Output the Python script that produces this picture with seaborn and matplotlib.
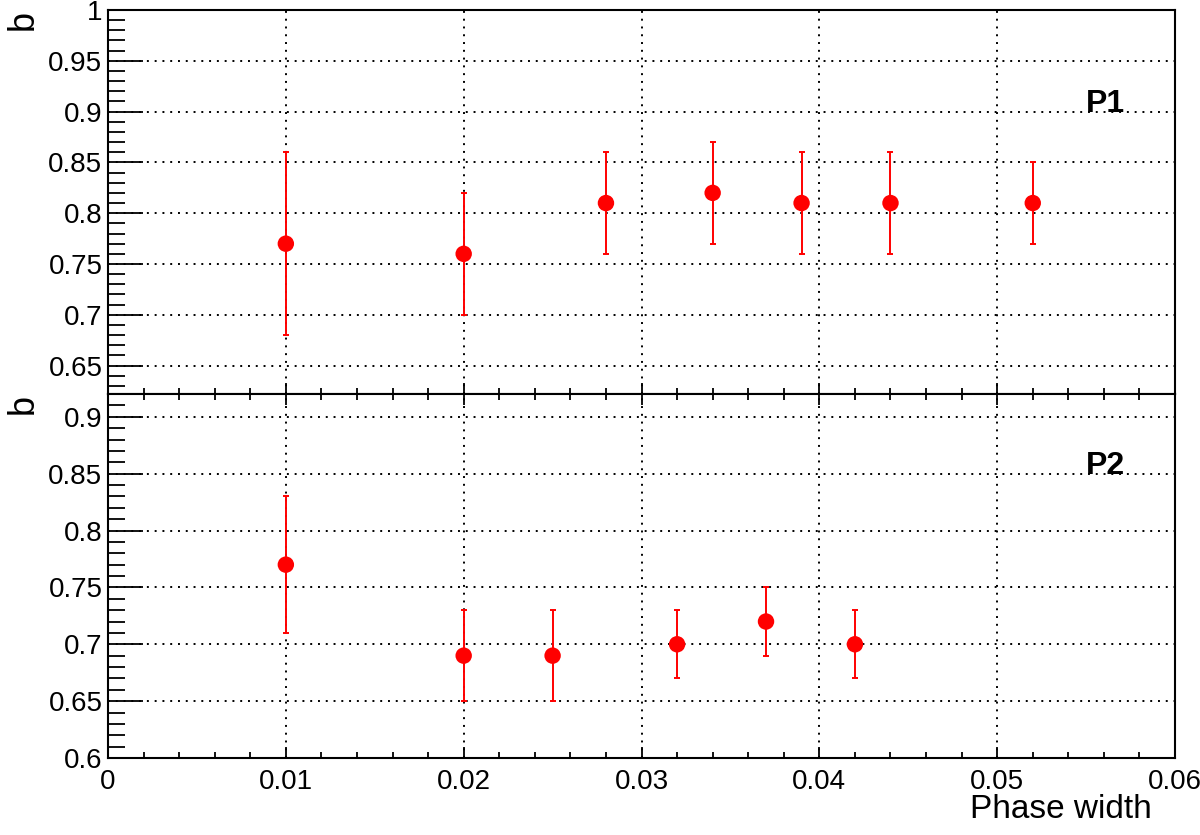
import matplotlib
matplotlib.use("Agg")
import pandas as pd
import seaborn as sns
import matplotlib.pyplot as plt
from matplotlib.ticker import MultipleLocator, FuncFormatter

# P1 values
p1_width = [0.010, 0.020, 0.028, 0.034, 0.039, 0.044, 0.052]
p1_b = [0.77, 0.76, 0.81, 0.82, 0.81, 0.81, 0.81]
p1_err = [0.09, 0.06, 0.05, 0.05, 0.05, 0.05, 0.04]

# P2 values
p2_width = [0.010, 0.020, 0.025, 0.032, 0.037, 0.042]
p2_b = [0.77, 0.69, 0.69, 0.70, 0.72, 0.70]
p2_err = [0.06, 0.04, 0.04, 0.03, 0.03, 0.03]

sns.set_style("ticks")
plt.rcParams["font.family"] = ["Liberation Sans", "DejaVu Sans"]
plt.rcParams["text.color"] = "black"
plt.rcParams["axes.labelcolor"] = "black"
plt.rcParams["xtick.color"] = "black"
plt.rcParams["ytick.color"] = "black"

fig = plt.figure(figsize=(12, 8.35), dpi=100)
ax1 = fig.add_axes([0.09, 0.5281, 0.8892, 0.4599])
ax2 = fig.add_axes([0.09, 0.0922, 0.8892, 0.4359])

panels = [
    (ax1, p1_width, p1_b, p1_err, "P1", (0.622, 1.0), 0.90),
    (ax2, p2_width, p2_b, p2_err, "P2", (0.6, 0.92), 0.85),
]

fmt = FuncFormatter(lambda v, pos: f"{v:g}")

for ax, xs, ys, errs, name, ylim, ytxt in panels:
    df = pd.DataFrame({"width": xs, "b": ys, "err": errs})

    ax.errorbar(df["width"], df["b"], yerr=df["err"], fmt="none",
                ecolor="red", elinewidth=1.4, capsize=2.5, capthick=1.4, zorder=3)
    sns.scatterplot(data=df, x="width", y="b", ax=ax, color="red", s=140,
                    edgecolor="none", linewidth=0, zorder=4)

    ax.set_xlim(0, 0.06)
    ax.set_ylim(*ylim)
    ax.xaxis.set_major_locator(MultipleLocator(0.01))
    ax.xaxis.set_minor_locator(MultipleLocator(0.002))
    ax.yaxis.set_major_locator(MultipleLocator(0.05))
    ax.yaxis.set_minor_locator(MultipleLocator(0.01))
    ax.xaxis.set_major_formatter(fmt)
    ax.yaxis.set_major_formatter(fmt)

    ax.grid(True, which="major", color="black", linestyle=(0, (1, 3)), linewidth=1.4)
    ax.set_axisbelow(True)

    for sp in ax.spines.values():
        sp.set_linewidth(1.5)
        sp.set_color("black")

    ax.tick_params(axis="y", which="major", direction="in", length=25, width=1.3,
                   labelsize=20, pad=4, left=True, right=False)
    ax.tick_params(axis="y", which="minor", direction="in", length=12, width=1.3,
                   left=True, right=False)
    ax.tick_params(axis="x", which="major", direction="in", length=8, width=1.3,
                   labelsize=20, pad=8)
    ax.tick_params(axis="x", which="minor", direction="in", length=4, width=1.3)

    ax.text(0.055, ytxt, name, fontsize=23, fontweight="bold", ha="left", va="baseline")

    ax.set_ylabel("b", fontsize=26, loc="top")
    ax.yaxis.set_label_coords(-0.063, 1.0)
    ax.set_xlabel("")

# top panel: no x labels, ticks only on its bottom edge
ax1.tick_params(axis="x", which="both", bottom=True, top=False, labelbottom=False)
# bottom panel: ticks on both edges
ax2.tick_params(axis="x", which="both", bottom=True, top=True, labelbottom=True)

ax2.set_xlabel("Phase width", fontsize=24)
ax2.xaxis.set_label_coords(0.978, -0.10)
ax2.xaxis.label.set_horizontalalignment("right")

fig.savefig("out.png", dpi=100)
